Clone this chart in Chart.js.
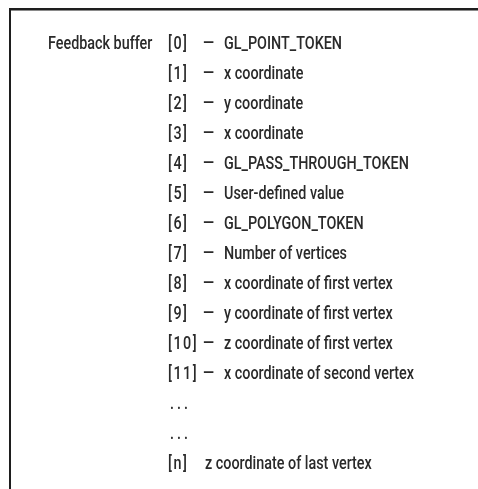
<!DOCTYPE html>
<html>
<head>
<meta charset="utf-8">
<script src="https://cdn.jsdelivr.net/npm/chart.js@4"></script>
<style>
  html, body { margin: 0; padding: 0; background: #fff; }
  canvas { display: block; }
</style>
</head>
<body>
<canvas id="chart" width="478" height="489"></canvas>
<script>
// rows of the feedback buffer
const bufferTitle = "Feedback buffer";
const indices = ["[0]", "[1]", "[2]", "[3]", "[4]", "[5]", "[6]", "[7]", "[8]", "[9]", "[10]", "[11]", "...", "...", "[n]"];
const separators = ["—", "—", "—", "—", "—", "—", "—", "—", "—", "—", "—", "—", "", "", ""];
const descriptions = [
  "GL_POINT_TOKEN",
  "x coordinate",
  "y coordinate",
  "x coordinate",
  "GL_PASS_THROUGH_TOKEN",
  "User-defined value",
  "GL_POLYGON_TOKEN",
  "Number of vertices",
  "x coordinate of first vertex",
  "y coordinate of first vertex",
  "z coordinate of first vertex",
  "x coordinate of second vertex",
  "",
  "",
  "z coordinate of last vertex"
];

const FONT = "500 19px Roboto, 'Liberation Sans', sans-serif";
const INK = "#2a2a2a";

const bufferText = {
  id: "bufferText",
  beforeDraw(chart) {
    const ctx = chart.ctx;
    ctx.save();
    ctx.fillStyle = "#fff";
    ctx.fillRect(0, 0, chart.width, chart.height);
    // frame: top and left rules
    ctx.fillStyle = "#1e1e1e";
    ctx.fillRect(9, 8, chart.width - 9, 2);
    ctx.fillRect(9, 8, 2, chart.height - 8);
    ctx.fillStyle = "#8a8a8a";
    ctx.fillRect(11, 10, chart.width - 11, 1);
    ctx.restore();
  },
  afterDraw(chart) {
    const ctx = chart.ctx;
    const y = chart.scales.y;
    ctx.save();
    ctx.font = FONT;
    ctx.fillStyle = INK;
    ctx.textBaseline = "middle";
    ctx.textAlign = "left";
    // narrow the face to match the condensed original
    const sx = 190 / ctx.measureText("x coordinate of second vertex").width;
    const put = (txt, x, py, spacing) => {
      ctx.save();
      ctx.letterSpacing = spacing || "0px";
      ctx.translate(x, py);
      ctx.scale(sx, 1);
      ctx.fillText(txt, 0, 0);
      ctx.restore();
    };
    put(bufferTitle, 48, y.getPixelForValue(0));
    indices.forEach((lab, i) => {
      const py = y.getPixelForValue(i);
      if (lab === "...") {
        put(lab, 170, py, "4px");
      } else {
        put(lab, 168, py, "2px");
      }
      if (separators[i]) {
        put(separators[i], 203, py);
        put(descriptions[i], 224, py);
      } else if (descriptions[i]) {
        put(descriptions[i], 205, py);
      }
    });
    ctx.restore();
  }
};

new Chart(document.getElementById("chart"), {
  type: "bar",
  data: {
    labels: indices,
    datasets: [{ data: indices.map(() => null) }]
  },
  options: {
    indexAxis: "y",
    responsive: false,
    animation: false,
    layout: { padding: { top: 29, bottom: 10, left: 0, right: 0 } },
    plugins: { legend: { display: false }, tooltip: { enabled: false } },
    scales: {
      y: { display: false, offset: true },
      x: { display: false, min: 0, max: 1 }
    }
  },
  plugins: [bufferText]
});
</script>
</body>
</html>
